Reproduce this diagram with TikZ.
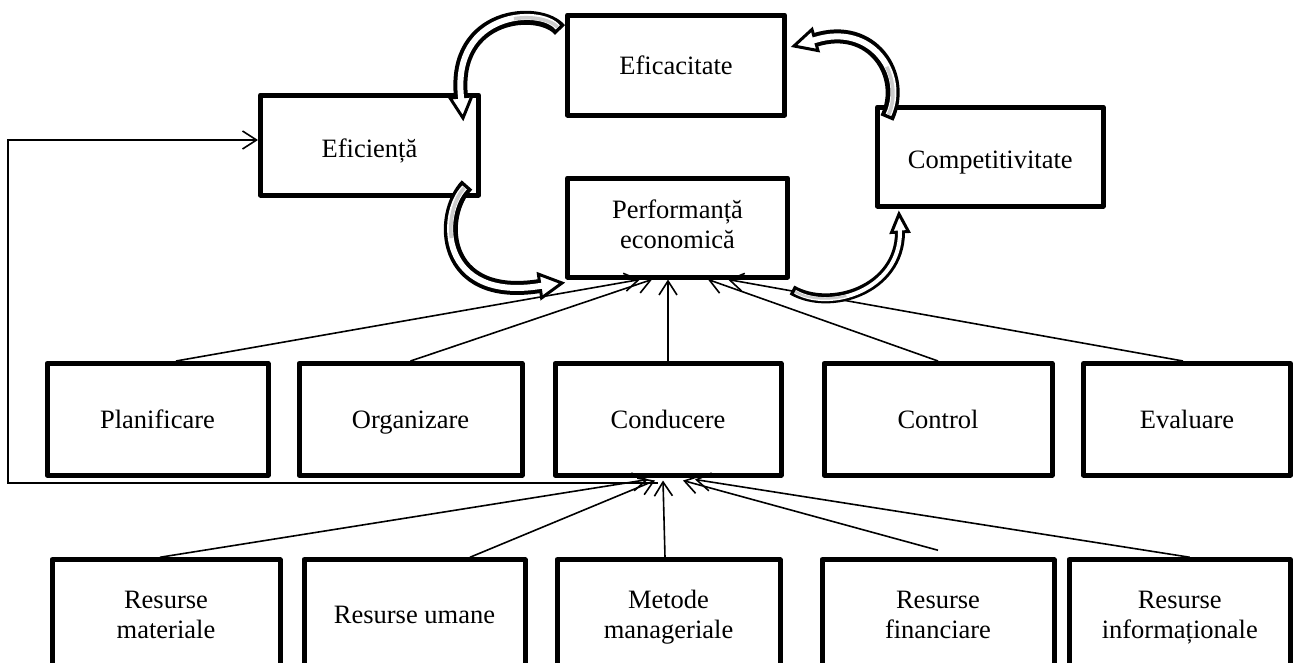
\documentclass[tikz,border=0pt]{standalone}
\usepackage{fontspec}
\setmainfont{Liberation Serif}
\usetikzlibrary{arrows.meta,calc}

\tikzset{
  box/.style={draw, line width=5pt, line join=round, fill=white, inner sep=0pt,
    align=center, font=\fontsize{26.5}{30}\selectfont},
  link/.style={line width=1.6pt, -{Straight Barb[length=14pt,width=18pt]}},
}

% strut of a given total height with a fixed depth, to place the first line
\newcommand{\upstrut}[1]{\rule[-9pt]{0pt}{#1}}

% bent block arrow: tail, control 1, control 2, head base, tip,
% shaft width, inner width, head half-width
\newcommand{\drawbentarrow}[8]{%
  \coordinate (ba0) at #1;
  \coordinate (ba1) at #2;
  \coordinate (ba2) at #3;
  \coordinate (ba3) at #4;
  \coordinate (batip) at #5;
  \draw[line width=#6] (ba0) .. controls (ba1) and (ba2) .. (ba3);
  \filldraw[fill=white, line width=3pt, line join=miter, miter limit=6]
    ($(ba3)!#8!90:(batip)$) -- (batip) -- ($(ba3)!#8!-90:(batip)$) -- cycle;
  \draw[white, line width=#7, shorten <=3.5pt]
    (ba0) .. controls (ba1) and (ba2) .. (ba3) -- ($(ba3)!3pt!(batip)$);
  \coordinate (bg1) at ($(ba0)!0.4!(ba1)$);
  \coordinate (bg2) at ($0.36*(ba0)+0.48*(ba1)+0.16*(ba2)$);
  \coordinate (bg3) at ($0.216*(ba0)+0.432*(ba1)+0.288*(ba2)+0.064*(ba3)$);
  \draw[gray!40, line width={0.6*#7}, shorten <=3.5pt]
    (ba0) .. controls (bg1) and (bg2) .. (bg3);
}

\begin{document}
\begin{tikzpicture}[x=1pt,y=-1pt]
\useasboundingbox (0,0) rectangle (1293,662);
\clip (0,0) rectangle (1293,662);

% top group
\node[box, minimum width=217pt, minimum height=100pt] (efc) at (676,65) {Eficacitate\upstrut{36pt}};
\node[box, minimum width=218pt, minimum height=100pt] (efi) at (369.5,145) {Eficiență\upstrut{42pt}};
\node[box, minimum width=225.5pt, minimum height=99pt] (cmp) at (990.25,156.5) {Competitivitate\upstrut{42pt}};
\node[box, minimum width=220pt, minimum height=99pt] (perf) at (677.5,227.5) {Performanță\strut\\economică\strut};

% management functions
\node[box, minimum width=221pt, minimum height=111.5pt] (plan) at (157.5,419.25) {Planificare\upstrut{36pt}};
\node[box, minimum width=223pt, minimum height=111.5pt] (org)  at (410.5,419.25) {Organizare\upstrut{36pt}};
\node[box, minimum width=226pt, minimum height=111.5pt] (cond) at (668,419.25) {Conducere\upstrut{36pt}};
\node[box, minimum width=228pt, minimum height=111.5pt] (ctrl) at (938,419.25) {Control\upstrut{36pt}};
\node[box, minimum width=207pt, minimum height=111.5pt] (eval) at (1187,419.25) {Evaluare\upstrut{36pt}};

% resources
\node[box, minimum width=228pt, minimum height=109.5pt] (rmat) at (166,614.5) {Resurse\upstrut{36pt}\\materiale\strut};
\node[box, minimum width=221pt, minimum height=109.5pt] (rum)  at (414.5,614.5) {Resurse umane\upstrut{36pt}};
\node[box, minimum width=223pt, minimum height=109.5pt] (met)  at (668.5,614.5) {Metode\upstrut{36pt}\\manageriale\strut};
\node[box, minimum width=232pt, minimum height=109.5pt] (rfin) at (938,614.5) {Resurse\upstrut{36pt}\\financiare\strut};
\node[box, minimum width=221.5pt, minimum height=109.5pt] (rinf) at (1179.75,614.5) {Resurse\upstrut{36pt}\\informaționale\strut};

% functions feed performance
\draw[link] ([xshift=18.5pt]plan.north) -- ([xshift=-37.5pt]perf.south);
\draw[link] (org.north) -- ([xshift=-25.5pt]perf.south);
\draw[link] (cond.north) -- (cond.north |- perf.south);
\draw[link] (ctrl.north) -- ([xshift=30.5pt]perf.south);
\draw[link] ([xshift=-4pt]eval.north) -- ([xshift=50.5pt]perf.south);

% resources feed management
\draw[link] ([xshift=-6pt]rmat.north) -- ([xshift=-20pt,yshift=-2pt]cond.south);
\draw[link] ([xshift=55.5pt]rum.north) -- ([xshift=-13pt,yshift=-3pt]cond.south);
\draw[link] ([xshift=-3.5pt]met.north) -- ([xshift=-5pt,yshift=-3pt]cond.south);
\coordinate (finstart) at ([yshift=7pt]rfin.north);
\draw[link] (finstart) -- ([xshift=15pt,yshift=-3pt]cond.south);
\draw[link] ([xshift=10pt]rinf.north) -- ([xshift=27pt,yshift=-2pt]cond.south);

% feedback loop to efficiency
\coordinate (fbhub) at ([xshift=-10pt,yshift=-5.5pt]cond.south);
\coordinate (fbcorner) at (8,483);
\coordinate (fbtop) at (8,140);
\draw[link] (fbhub) -- (fbcorner) -- (fbtop) -- (efi.west |- fbtop);

% cycle of bent arrows
\drawbentarrow{(560,30)}{(540,6)}{(452,12)}{(461,97)}{(463,118)}{14pt}{6pt}{11pt}
\drawbentarrow{(887,118)}{(907,75)}{(872,22)}{(815,40)}{(794,46)}{14pt}{6pt}{11pt}
\drawbentarrow{(467,185)}{(438,215)}{(440,302)}{(540,286)}{(562,283)}{14pt}{6pt}{12pt}
\drawbentarrow{(792,290)}{(830,312)}{(900,290)}{(900,232)}{(899,214)}{10pt}{4pt}{8.5pt}
\end{tikzpicture}
\end{document}
